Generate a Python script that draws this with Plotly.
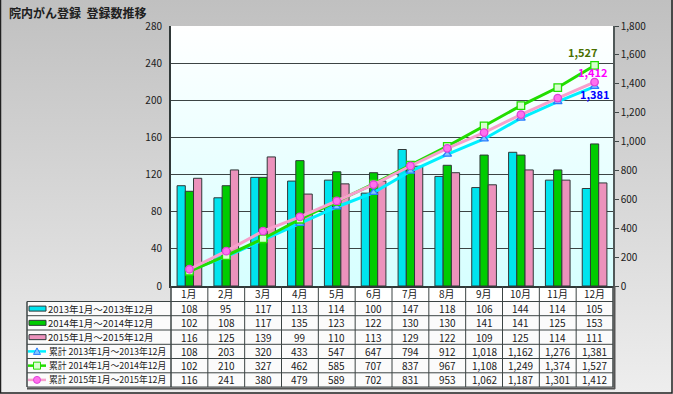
import base64
import plotly.graph_objects as go

# ---------------- data ----------------
months = ["1月", "2月", "3月", "4月", "5月", "6月", "7月", "8月", "9月", "10月", "11月", "12月"]
names_bar = ["2013年1月～2013年12月", "2014年1月～2014年12月", "2015年1月～2015年12月"]
names_cum = ["累計 2013年1月～2013年12月", "累計 2014年1月～2014年12月", "累計 2015年1月～2015年12月"]
v2013 = [108, 95, 117, 113, 114, 100, 147, 118, 106, 144, 114, 105]
v2014 = [102, 108, 117, 135, 123, 122, 130, 130, 141, 141, 125, 153]
v2015 = [116, 125, 139, 99, 110, 113, 129, 122, 109, 125, 114, 111]
c2013 = [108, 203, 320, 433, 547, 647, 794, 912, 1018, 1162, 1276, 1381]
c2014 = [102, 210, 327, 462, 585, 707, 837, 967, 1108, 1249, 1374, 1527]
c2015 = [116, 241, 380, 479, 589, 702, 831, 953, 1062, 1187, 1301, 1412]
left_ticks = [0, 40, 80, 120, 160, 200, 240, 280]
right_ticks = [0, 200, 400, 600, 800, 1000, 1200, 1400, 1600, 1800]
title_text = "院内がん登録  登録数推移"

# ---------------- layout geometry (pixels) ----------------
W, H = 673, 394
L, R, T, B = 171, 613, 26, 286
PW, PH = R - L, B - T


def px(x):
    return (x - L) / PW


def py(y):
    return (B - y) / PH


FONT = "Noto Sans CJK JP, Liberation Sans, sans-serif"
bar_colors = ["#00e4ee", "#00cc00", "#ec92bc"]
line_colors = ["#00f0ff", "#22dd00", "#f7a0cc"]
marker_fill = ["#80c8ff", "#d8ffd0", "#ff70ee"]
marker_line = ["#2a7cff", "#22dd00", "#e040d8"]
marker_sym = ["triangle-up", "square", "circle"]
bar_vals = [v2013, v2014, v2015]
cum_vals = [c2013, c2014, c2015]

fig = go.Figure()
for i in range(3):
    fig.add_trace(go.Bar(x=months, y=bar_vals[i], name=names_bar[i],
                         marker=dict(color=bar_colors[i], line=dict(color="#303838", width=1)),
                         showlegend=False, yaxis="y"))
for i in range(3):
    fig.add_trace(go.Scatter(x=months, y=cum_vals[i], name=names_cum[i], mode="lines+markers",
                             line=dict(color=line_colors[i], width=3),
                             marker=dict(symbol=marker_sym[i], size=7.5, color=marker_fill[i],
                                         line=dict(color=marker_line[i], width=1.3)),
                             showlegend=False, yaxis="y2"))


def grad_uri(c0, c1):
    svg = ("<svg xmlns='http://www.w3.org/2000/svg' width='100' height='100' viewBox='0 0 100 100' "
           "preserveAspectRatio='none'><defs><linearGradient id='g' x1='0' y1='0' x2='0' y2='1'>"
           f"<stop offset='0' stop-color='{c0}'/><stop offset='1' stop-color='{c1}'/></linearGradient></defs>"
           "<rect x='0' y='0' width='100' height='100' fill='url(#g)'/></svg>")
    return "data:image/svg+xml;base64," + base64.b64encode(svg.encode()).decode()


images = [
    dict(source=grad_uri("#c0c0c0", "#eeeeee"), xref="paper", yref="paper", x=px(0), y=py(0),
         sizex=W / PW, sizey=H / PH, sizing="stretch", layer="below", xanchor="left", yanchor="top"),
    dict(source=grad_uri("#ffffff", "#d6ffff"), xref="paper", yref="paper", x=0, y=1, sizex=1, sizey=1,
         sizing="stretch", layer="below", xanchor="left", yanchor="top"),
]

shapes = []
annotations = []
GRID = "#3c4444"

# end labels
lab_cols = ["#0000ff", "#4a7000", "#ff00ff"]
lab_shift = [(0, -7), (-12, 13), (-2, 10)]
for i in range(3):
    annotations.append(dict(x=months[-1], y=cum_vals[i][-1], xref="x", yref="y2",
                            text=f"<b>{cum_vals[i][-1]:,}</b>", showarrow=False,
                            font=dict(family=FONT, size=11, color=lab_cols[i]),
                            xshift=lab_shift[i][0], yshift=lab_shift[i][1]))

# table backgrounds
row_b = [301.5, 315.7, 330.0, 344.3, 358.5, 372.8, 387.0]
shapes.append(dict(type="rect", xref="paper", yref="paper", x0=px(L), x1=px(R), y0=py(B), y1=py(row_b[0]),
                   fillcolor="#ffffff", line=dict(width=0), layer="below"))
shapes.append(dict(type="rect", xref="paper", yref="paper", x0=px(27), x1=px(R), y0=py(row_b[0]), y1=py(row_b[-1]),
                   fillcolor="#fbfbfb", line=dict(width=0), layer="below"))
# horizontal table lines
for yb in row_b:
    shapes.append(dict(type="line", xref="paper", yref="paper", x0=px(27), x1=px(R), y0=py(yb), y1=py(yb),
                       line=dict(color=GRID, width=1)))
shapes.append(dict(type="line", xref="paper", yref="paper", x0=px(27), x1=px(R + 2), y0=py(row_b[-1] + 1.5),
                   y1=py(row_b[-1] + 1.5), line=dict(color="#555555", width=2)))
# vertical lines
cw = PW / 12
for k in range(13):
    xx = L + k * cw
    shapes.append(dict(type="line", xref="paper", yref="paper", x0=px(xx), x1=px(xx), y0=py(B), y1=py(row_b[-1]),
                       line=dict(color=GRID, width=1.5 if k in (0, 12) else 1)))
shapes.append(dict(type="line", xref="paper", yref="paper", x0=px(R + 1.5), x1=px(R + 1.5), y0=py(B), y1=py(row_b[-1] + 2),
                   line=dict(color="#555555", width=2)))
shapes.append(dict(type="line", xref="paper", yref="paper", x0=px(27), x1=px(27), y0=py(row_b[0]), y1=py(row_b[-1]),
                   line=dict(color=GRID, width=1.5)))
# outer border
shapes.append(dict(type="rect", xref="paper", yref="paper", x0=px(0.5), x1=px(W - 1), y0=py(H - 1), y1=py(-2),
                   line=dict(color="#202020", width=1.5), fillcolor="rgba(0,0,0,0)"))

annotations.append(dict(x=px(7), y=py(13), xref="paper", yref="paper", xanchor="left", yanchor="middle",
                        text=f"<b>{title_text}</b>", showarrow=False, font=dict(family=FONT, size=12, color="#202020")))
# header row
for m in months:
    annotations.append(dict(x=m, y=py((B + row_b[0]) / 2), xref="x", yref="paper", text=m, showarrow=False,
                            font=dict(family=FONT, size=10, color="#202020"), yanchor="middle"))
# data rows
rows = bar_vals + cum_vals
row_names = names_bar + names_cum
for r in range(6):
    yc = (row_b[r] + row_b[r + 1]) / 2
    for j, m in enumerate(months):
        annotations.append(dict(x=m, y=py(yc), xref="x", yref="paper", text=f"{rows[r][j]:,}", showarrow=False,
                                font=dict(family=FONT, size=10, color="#202020"), yanchor="middle"))
    tx = 46 if r < 3 else 46.5
    annotations.append(dict(x=px(tx), y=py(yc), xref="paper", yref="paper", text=row_names[r], showarrow=False,
                            xanchor="left", yanchor="middle",
                            font=dict(family=FONT, size=9.5 if r < 3 else 8.8, color="#202020")))
    if r < 3:
        shapes.append(dict(type="rect", xref="paper", yref="paper", x0=px(29), x1=px(46), y0=py(yc - 2.5), y1=py(yc + 2.5),
                           fillcolor=bar_colors[r], line=dict(color="#303838", width=1)))
    else:
        i = r - 3
        shapes.append(dict(type="line", xref="paper", yref="paper", x0=px(28), x1=px(46), y0=py(yc), y1=py(yc),
                           line=dict(color=line_colors[i], width=2.5)))
        mx = 37
        if i == 0:
            path = f"M {px(mx-3.5)},{py(yc+3)} L {px(mx+3.5)},{py(yc+3)} L {px(mx)},{py(yc-3.5)} Z"
            shapes.append(dict(type="path", xref="paper", yref="paper", path=path, fillcolor=marker_fill[i],
                               line=dict(color=marker_line[i], width=1)))
        elif i == 1:
            shapes.append(dict(type="rect", xref="paper", yref="paper", x0=px(mx - 3.5), x1=px(mx + 3.5),
                               y0=py(yc + 3.5), y1=py(yc - 3.5), fillcolor=marker_fill[i],
                               line=dict(color=marker_line[i], width=1)))
        else:
            shapes.append(dict(type="circle", xref="paper", yref="paper", x0=px(mx - 3.5), x1=px(mx + 3.5),
                               y0=py(yc + 3.5), y1=py(yc - 3.5), fillcolor=marker_fill[i],
                               line=dict(color=marker_line[i], width=1)))

fig.update_layout(
    width=W, height=H,
    margin=dict(l=L, r=W - R, t=T, b=H - B, pad=0),
    paper_bgcolor="#cccccc", plot_bgcolor="rgba(0,0,0,0)",
    barmode="group", bargap=0.33, bargroupgap=0,
    font=dict(family=FONT, size=10, color="#202020"),
    xaxis=dict(type="category", showticklabels=False, ticks="", showgrid=False, showline=True,
               linecolor="#303838", linewidth=1.5, range=[-0.5, 11.5], fixedrange=True),
    yaxis=dict(range=[0, 280], tickvals=left_ticks, showgrid=True, gridcolor=GRID, gridwidth=1,
               showline=True, linecolor="#303838", linewidth=2, ticks="outside", ticklen=5,
               tickcolor="rgba(0,0,0,0)", tickfont=dict(family=FONT, size=10, color="#202020"), zeroline=False),
    yaxis2=dict(range=[0, 1800], tickvals=right_ticks, tickformat=",d", overlaying="y", side="right",
                showgrid=False, showline=True, linecolor="#505858", linewidth=1.5, ticks="outside", ticklen=4,
                tickcolor="#404848", tickfont=dict(family=FONT, size=10, color="#202020"), zeroline=False),
    images=images, shapes=shapes, annotations=annotations,
)

fig.write_html("out.html")
